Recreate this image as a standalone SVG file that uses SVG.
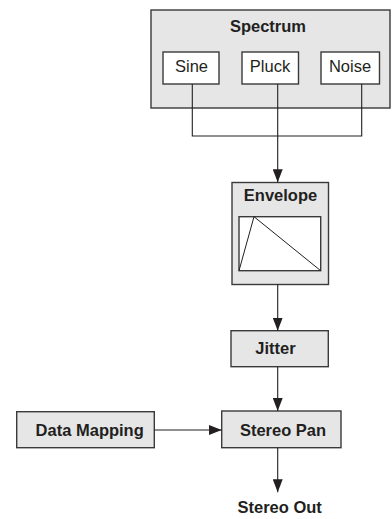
<svg xmlns="http://www.w3.org/2000/svg" width="392" height="519" viewBox="0 0 392 519">
<style>
.box{fill:#e6e6e7;stroke:#3a3a3a;stroke-width:1.4}
.wbox{fill:#ffffff;stroke:#3a3a3a;stroke-width:1.4}
.b{font-family:"Liberation Sans",Arial,sans-serif;font-weight:bold;font-size:16.5px;fill:#231f20;text-anchor:middle}
.r{font-family:"Liberation Sans",Arial,sans-serif;font-size:16.5px;fill:#231f20;text-anchor:middle}
.c{fill:none;stroke:#231f20;stroke-width:1.1}
</style>
<defs>
<marker id="ah" markerUnits="userSpaceOnUse" markerWidth="13" markerHeight="10" refX="13" refY="5" orient="auto">
<path d="M0,0 L13,5 L0,10 z" fill="#231f20"/>
</marker>
</defs>
<g id="spectrum">
<rect class="box" x="151" y="10" width="239" height="98"/>
<text class="b" x="268" y="32">Spectrum</text>
</g>
<g id="sine">
<rect class="wbox" x="163" y="52" width="56" height="32"/>
<text class="r" x="191.5" y="72">Sine</text>
</g>
<g id="pluck">
<rect class="wbox" x="242" y="52" width="56.5" height="32"/>
<text class="r" x="270" y="72">Pluck</text>
</g>
<g id="noise">
<rect class="wbox" x="321" y="52" width="58.5" height="32"/>
<text class="r" x="350" y="72">Noise</text>
</g>
<g id="envelope">
<rect class="box" x="232" y="182.5" width="96.5" height="102"/>
<text class="b" x="280.5" y="201">Envelope</text>
<rect class="wbox" x="239" y="216.7" width="81.7" height="54"/>
<path d="M239,270.7 L254,216.7 L320.7,270.7" fill="none" stroke="#231f20" stroke-width="1"/>
</g>
<g id="jitter">
<rect class="box" x="231" y="330.7" width="97.3" height="36"/>
<text class="b" x="275.5" y="353.5">Jitter</text>
</g>
<g id="data-mapping">
<rect class="box" x="16.7" y="411.7" width="137.6" height="36"/>
<text class="b" x="89.7" y="435.7">Data Mapping</text>
</g>
<g id="stereo-pan">
<rect class="box" x="221.7" y="411" width="119.3" height="36.7"/>
<text class="b" x="283" y="435.7">Stereo Pan</text>
</g>
<g id="stereo-out">
<text class="b" x="279.7" y="513.3">Stereo Out</text>
</g>
<g id="connectors">
<path class="c" d="M192.3,84 V136 H361.7 V84"/>
<path class="c" d="M277.7,84 V182.3" marker-end="url(#ah)"/>
<path class="c" d="M277.7,284.5 V330.7" marker-end="url(#ah)"/>
<path class="c" d="M277.7,366.7 V411" marker-end="url(#ah)"/>
<path class="c" d="M154.3,430 H221.7" marker-end="url(#ah)"/>
<path class="c" d="M277.7,447.7 V492.3" marker-end="url(#ah)"/>
</g>
</svg>
